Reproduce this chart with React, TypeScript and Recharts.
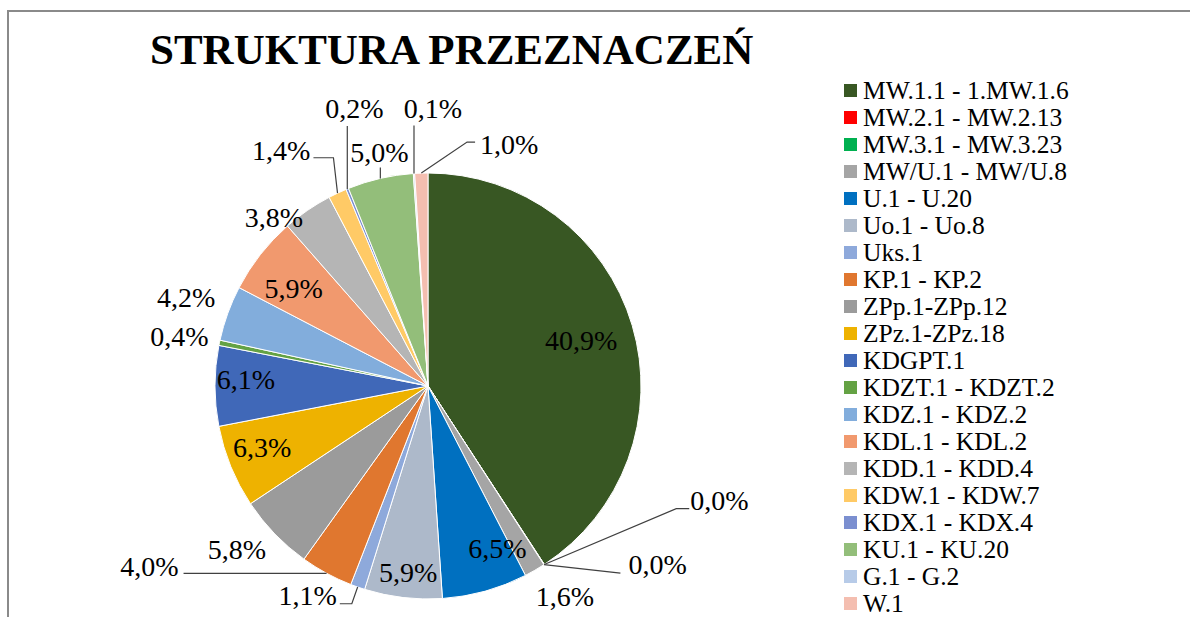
import React from 'react';
import { PieChart, Pie, Cell, Legend } from 'recharts';

const categories = [
  'MW.1.1 - 1.MW.1.6',
  'MW.2.1 - MW.2.13',
  'MW.3.1 - MW.3.23',
  'MW/U.1 - MW/U.8',
  'U.1 - U.20',
  'Uo.1 - Uo.8',
  'Uks.1',
  'KP.1 - KP.2',
  'ZPp.1-ZPp.12',
  'ZPz.1-ZPz.18',
  'KDGPT.1',
  'KDZT.1 - KDZT.2',
  'KDZ.1 - KDZ.2',
  'KDL.1 - KDL.2',
  'KDD.1 - KDD.4',
  'KDW.1 - KDW.7',
  'KDX.1 - KDX.4',
  'KU.1 - KU.20',
  'G.1 - G.2',
  'W.1',
];

const shares = [40.9, 0.02, 0.02, 1.6, 6.5, 5.9, 1.1, 4.0, 5.8, 6.3, 6.1, 0.4, 4.2, 5.9, 3.8, 1.4, 0.2, 5.0, 0.1, 1.0];

const colors = [
  '#385723', '#FF0000', '#00B050', '#A5A5A5', '#0070C0', '#ADB9CA', '#8EA9DB', '#E0772F',
  '#9B9B9B', '#EEB200', '#4068B8', '#64A244', '#82ADDC', '#F1996E', '#B5B5B5', '#FFCA66',
  '#7B8FD0', '#93BE7A', '#B7CBE8', '#F4BEB0',
];

const title = 'STRUKTURA PRZEZNACZEŃ';

const data = categories.map((name, i) => ({ name, value: shares[i] }));

// label layout (a = clockwise degrees from 12 o'clock, k = fraction of radius)
type Pt = { k?: number; a?: number; dx?: number; dy?: number };
type LCfg = { k?: number; a?: number; pts?: Pt[]; t?: { dx: number; dy: number; anchor: string } };
const labelLayout: LCfg[] = [
  { k: 0.75 },
  { pts: [{ k: 1.3, a: 116.3 }, { dx: 13 }], t: { dx: 1, dy: -8, anchor: 'start' } },
  { pts: [{ k: 1.26, a: 134.2 }], t: { dx: 8, dy: -9, anchor: 'start' } },
  { k: 1.18, a: 147 },
  { k: 0.83, a: 156.9 },
  { k: 0.88, a: 186.1 },
  { pts: [{ k: 1.083 }, { dx: -12 }], t: { dx: -3, dy: -8, anchor: 'end' } },
  { pts: [{ dx: -143 }], t: { dx: -5, dy: -7, anchor: 'end' } },
  { k: 1.18, a: 229.5 },
  { k: 0.83, a: 249.8 },
  { k: 0.855, a: 271.9 },
  { k: 1.19, a: 281.2 },
  { k: 1.21, a: 290.2 },
  { k: 0.78, a: 306 },
  { k: 1.07, a: 317.5 },
  { pts: [{ k: 1.16, a: 337.5 }, { dx: -20 }], t: { dx: -3, dy: -7, anchor: 'end' } },
  { pts: [{ dy: -63 }], t: { dx: 7, dy: -17, anchor: 'middle' } },
  { pts: [{ dy: -11 }], t: { dx: -1, dy: -15, anchor: 'middle' } },
  { pts: [{ dy: -48 }], t: { dx: 19, dy: -17, anchor: 'middle' } },
  { pts: [{ k: 1.16, a: 9.1 }, { dx: 8 }], t: { dx: 5, dy: 2, anchor: 'start' } },
];

const CX = 428;
const CY = 386;
const R = 213;
const RAD = Math.PI / 180;
const FONT = 'Liberation Serif, Times New Roman, Times, serif';

const polar = (cx: number, cy: number, r: number, a: number) => ({
  x: cx + r * Math.sin(a * RAD),
  y: cy - r * Math.cos(a * RAD),
});

const fmt = (v: number) => v.toFixed(1).replace('.', ',') + '%';

const renderLabel = (props: any) => {
  const cx = props.cx ?? CX;
  const cy = props.cy ?? CY;
  const r = props.outerRadius ?? R;
  const idx = props.index;
  const mid = 90 - props.midAngle;
  const cfg = labelLayout[idx] || { k: 1.15 };
  const text = fmt(props.value);
  if (!cfg.pts) {
    const p = polar(cx, cy, r * (cfg.k ?? 1.15), cfg.a ?? mid);
    return (
      <text key={idx} x={p.x} y={p.y} textAnchor="middle" dominantBaseline="central" fontFamily={FONT} fontSize={28} fill="#000">
        {text}
      </text>
    );
  }
  let cur = polar(cx, cy, r, mid);
  const pts = [cur];
  for (const s of cfg.pts) {
    if (s.k !== undefined) cur = polar(cx, cy, r * s.k, s.a ?? mid);
    else cur = { x: cur.x + (s.dx ?? 0), y: cur.y + (s.dy ?? 0) };
    pts.push(cur);
  }
  const d = pts.map((p, i) => `${i ? 'L' : 'M'}${p.x},${p.y}`).join(' ');
  const t = cfg.t!;
  return (
    <g key={idx}>
      <path d={d} stroke="#404040" strokeWidth={1.2} fill="none" />
      <text x={cur.x + t.dx} y={cur.y + t.dy} textAnchor={t.anchor as any} dominantBaseline="central" fontFamily={FONT} fontSize={28} fill="#000">
        {text}
      </text>
    </g>
  );
};

const renderLegend = (props: any) => {
  const payload = [...(props.payload || [])].sort(
    (a: any, b: any) => categories.indexOf(a.value) - categories.indexOf(b.value)
  );
  return (
    <div style={{ fontFamily: FONT, fontSize: 25.5, color: '#000' }}>
      {payload.map((e: any, i: number) => (
        <div key={i} style={{ display: 'flex', alignItems: 'center', height: 27, whiteSpace: 'nowrap' }}>
          <span style={{ display: 'inline-block', width: 13, height: 13, background: e.color, marginRight: 6 }} />
          <span>{e.value}</span>
        </div>
      ))}
    </div>
  );
};

export default function App() {
  return (
    <div style={{ position: 'absolute', left: 0, top: 0, width: 1190, height: 617, background: '#fff', overflow: 'hidden', fontFamily: FONT }}>
      <div
        style={{
          position: 'absolute',
          left: 7,
          top: 10,
          width: 1200,
          height: 620,
          borderTop: '2px solid #8a8a8a',
          borderLeft: '2px solid #8a8a8a',
        }}
      />
      <svg style={{ position: 'absolute', left: 0, top: 0 }} width={1190} height={100}>
        <text x={150} y={64} fontFamily={FONT} fontSize={43} fontWeight="bold" fill="#000">
          {title}
        </text>
      </svg>
      <div style={{ position: 'absolute', left: 0, top: 0 }}>
        <PieChart width={1190} height={617} margin={{ top: 0, right: 0, bottom: 0, left: 0 }}>
          <Pie
            data={data}
            dataKey="value"
            nameKey="name"
            cx={CX}
            cy={CY}
            outerRadius={R}
            startAngle={90}
            endAngle={-270}
            stroke="#ffffff"
            strokeWidth={1}
            label={renderLabel}
            labelLine={false}
            isAnimationActive={false}
          >
            {data.map((d, i) => (
              <Cell key={d.name} fill={colors[i]} />
            ))}
          </Pie>
          <Legend
            content={renderLegend}
            layout="vertical"
            wrapperStyle={{ position: 'absolute', left: 844, top: 77, width: 330 }}
          />
        </PieChart>
      </div>
    </div>
  );
}
